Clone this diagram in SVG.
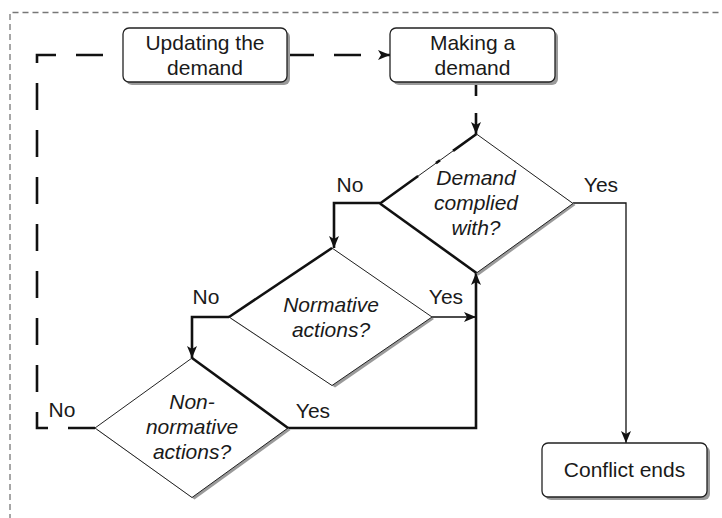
<svg xmlns="http://www.w3.org/2000/svg" width="722" height="518" viewBox="0 0 722 518">
  <defs>
    <marker id="arrow" viewBox="0 0 12 10" refX="12" refY="5" markerWidth="12" markerHeight="10" markerUnits="userSpaceOnUse" orient="auto">
      <path d="M0,0 L12,5 L0,10 L3,5 Z" fill="#111"/>
    </marker>
  </defs>
  <style>
    text { font-family: "Liberation Sans", Arial, sans-serif; font-size: 21px; fill: #1a1a1a; }
    .lbl { text-anchor: middle; }
    .q { text-anchor: middle; font-style: italic; }
    .box { fill: #fff; stroke: #222; stroke-width: 1.3; }
    .shadow { fill: #9a9a9a; stroke: none; }
    .dia { fill: #fff; stroke: #222; stroke-width: 1; }
    .hl { fill: none; stroke: #111; stroke-width: 2.6; }
    .thin { fill: none; stroke: #111; stroke-width: 1.3; }
    .thick { fill: none; stroke: #111; stroke-width: 2.6; }
    .loop { fill: none; stroke: #111; stroke-width: 2.6; stroke-dasharray: 27 20; }
    .frame { fill: none; stroke: #777; stroke-width: 1.3; stroke-dasharray: 6 4; }
  </style>

  <!-- outer dashed frame -->
  <path class="frame" d="M10,530 L10,12.5 L730,12.5"/>

  <!-- connectors -->
  <g id="connectors">
    <path class="loop" d="M95,428 L37,428 L37,55 L123,55"/>
    <path class="loop" d="M287,55 L390,55" marker-end="url(#arrow)"/>
    <path class="thick" d="M476,82 L476,134" stroke-dasharray="14 17 40" marker-end="url(#arrow)"/>
    <path class="thick" d="M380,203 L334,203 L334,248" marker-end="url(#arrow)"/>
    <path class="thin" d="M573,203 L626,203 L626,443" marker-end="url(#arrow)"/>
    <path class="thick" d="M229,317 L192,317 L192,358" marker-end="url(#arrow)"/>
    <path class="thin" d="M432,317 L476,317" marker-end="url(#arrow)"/>
    <path class="thick" d="M288,428 L476,428 L476,273" marker-end="url(#arrow)"/>
  </g>

  <!-- edge labels -->
  <g id="labels">
    <text x="350" y="192" class="lbl">No</text>
    <text x="601" y="192" class="lbl">Yes</text>
    <text x="206" y="304" class="lbl">No</text>
    <text x="446" y="304" class="lbl">Yes</text>
    <text x="62" y="417" class="lbl">No</text>
    <text x="313" y="418" class="lbl">Yes</text>
  </g>

  <g id="updating">
    <rect class="shadow" x="126" y="31" width="164" height="54" rx="6"/>
    <rect class="box" x="123" y="28" width="164" height="54" rx="6"/>
    <text x="205" y="50" class="lbl">Updating the</text>
    <text x="205" y="75" class="lbl">demand</text>
  </g>

  <g id="making">
    <rect class="shadow" x="393" y="31" width="165" height="54" rx="6"/>
    <rect class="box" x="390" y="28" width="165" height="54" rx="6"/>
    <text x="472.5" y="50" class="lbl">Making a</text>
    <text x="472.5" y="75" class="lbl">demand</text>
  </g>

  <g id="complied">
    <polygon class="shadow" points="478.5,136 575.5,205 478.5,275.5 382,205"/>
    <polygon class="dia" points="476.5,134 573,203.5 476.5,273 380,203.5"/>
    <path class="hl" d="M380,203.5 L476.5,134" stroke-dasharray="47 22 5 16 40" stroke-width="2.2"/>
    <path class="hl" d="M380,203.5 L476.5,273"/>
    <text x="476" y="185" class="q">Demand</text>
    <text x="476" y="210" class="q">complied</text>
    <text x="476" y="235" class="q">with?</text>
  </g>

  <g id="normative">
    <polygon class="shadow" points="335,250 434,319 335,387.5 231,319"/>
    <polygon class="dia" points="332,248 432,317 332,385.5 229,317"/>
    <path class="hl" d="M229,317 L332,248"/>
    <text x="331" y="312" class="q">Normative</text>
    <text x="331" y="337" class="q">actions?</text>
  </g>

  <g id="nonnormative">
    <polygon class="shadow" points="194.5,360 290.5,430 194.5,499.5 97,430"/>
    <polygon class="dia" points="192,358 288,428 192,497.5 95,428"/>
    <path class="hl" d="M192,358 L288,428"/>
    <text x="192" y="409" class="q">Non-</text>
    <text x="192" y="434" class="q">normative</text>
    <text x="192" y="459" class="q">actions?</text>
  </g>

  <g id="conflict-ends">
    <rect class="shadow" x="545" y="446" width="165" height="54" rx="6"/>
    <rect class="box" x="542" y="443" width="165" height="54" rx="6"/>
    <text x="624.5" y="477" class="lbl">Conflict ends</text>
  </g>
</svg>
